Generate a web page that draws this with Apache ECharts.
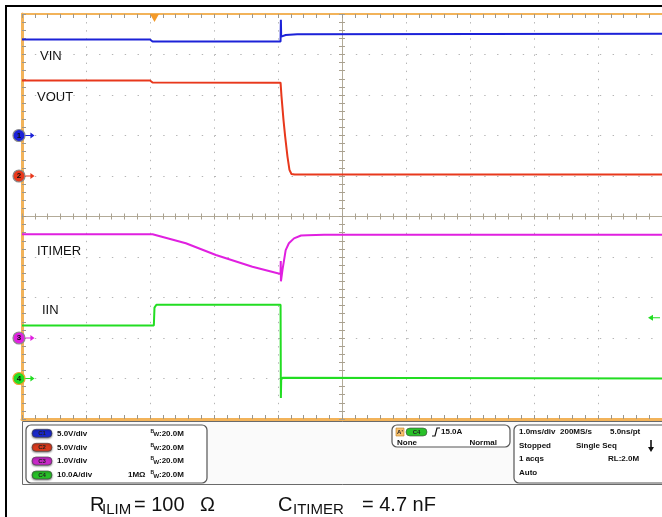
<!DOCTYPE html>
<html><head><meta charset="utf-8">
<script src="https://cdn.jsdelivr.net/npm/echarts@6/dist/echarts.min.js"></script>
<style>html,body{margin:0;padding:0;background:#fff}#c{width:662px;height:517px}</style>
</head><body><div id="c"></div><script>
// Time axis: ms from left edge of screen (1.0 ms/div, 10 divisions)
const vinT = [0, 2.0, 2.04, 4.04, 4.045, 4.05, 4.12, 4.3, 10];
const vinV = [11.85, 11.85, 11.6, 11.6, 14.3, 12.2, 12.4, 12.5, 12.55];           // V
const voutT = [0, 2.0, 2.04, 4.04, 4.055, 4.086, 4.112, 4.148, 4.179, 4.21, 4.26, 10];
const voutV = [11.8, 11.8, 11.55, 11.52, 9.8, 6.9, 4.85, 2.4, 0.75, 0.25, 0.18, 0.18]; // V
const itT = [0, 2.04, 2.56, 3.03, 3.6, 4.04, 4.043, 4.046, 4.07, 4.12, 4.17, 4.25, 4.36, 4.46, 4.72, 10];
const itV = [2.56, 2.56, 2.34, 2.05, 1.76, 1.58, 1.9, 1.4, 1.68, 2.17, 2.34, 2.46, 2.53, 2.54, 2.55, 2.55]; // V
const iinT = [0, 2.06, 2.07, 2.1, 4.04, 4.045, 4.05, 4.07, 4.1, 10];
const iinV = [13.1, 13.1, 17.5, 18.2, 18.2, -4.8, -0.3, 0.2, 0, 0];                 // A

const chNames = ['VIN', 'VOUT', 'ITIMER', 'IIN'];
const chNums = ['1', '2', '3', '4'];
const chScale = [5, 5, 1, 10];      // units per division
const chGround = [2, 1, -3, -4];    // ground marker position in divisions from centre
const chColors = ['#1c22d8', '#e8381c', '#e020e0', '#22dd22'];
const trigTime = 2.07;   // ms
const trigLevel = 15;    // A on IIN

const FONT = '"Liberation Sans", Arial, sans-serif';
const ORANGE = '#f2b35a';
const zip = (t, v) => t.map((x, i) => [x, v[i]]);
const dataSets = [zip(vinT, vinV), zip(voutT, voutV), zip(itT, itV), zip(iinT, iinV)];

const G = {left: 22, top: 14, width: 642, height: 405};
const dotsV = {color: '#b5b5b5', width: 1, type: [1.4, 6.7]};
const dotsH = {color: '#b5b5b5', width: 1, type: [1.4, 11.44]};
const tickStyle = {color: '#9c978c', width: 1};

const chart = echarts.init(document.getElementById('c'), null, {renderer: 'canvas'});

function crossAxes(gi, inside) {
  return {
    type: 'value', gridIndex: gi, min: -5, max: 5, interval: 1,
    axisLine: {show: true, onZero: true, lineStyle: {color: '#b3ab98', width: 1}},
    axisTick: {show: true, inside: inside, length: 3, lineStyle: {color: '#a9a190'}},
    minorTick: {show: true, splitNumber: 5, length: 3, lineStyle: {color: '#a9a190'}},
    axisLabel: {show: false}, splitLine: {show: false}
  };
}

const yAxes = [{
  type: 'value', gridIndex: 0, min: -5, max: 5, interval: 1, position: 'left',
  axisLine: {show: true, onZero: false, lineStyle: {color: ORANGE, width: 3}},
  axisTick: {show: true, inside: true, length: 4, lineStyle: tickStyle},
  minorTick: {show: true, splitNumber: 5, length: 4, lineStyle: tickStyle},
  axisLabel: {show: false},
  splitLine: {show: true, lineStyle: dotsH}
}];
chScale.forEach((s, i) => {
  yAxes.push({type: 'value', gridIndex: 0, show: false,
    min: -(5 + chGround[i]) * s, max: (5 - chGround[i]) * s});
});
yAxes.push(crossAxes(1, true), crossAxes(2, false));

const xAxes = [
  {type: 'value', gridIndex: 0, min: 0, max: 10, interval: 1, position: 'bottom',
   axisLine: {show: true, onZero: false, lineStyle: {color: ORANGE, width: 3}},
   axisTick: {show: true, inside: true, length: 4, lineStyle: tickStyle},
   minorTick: {show: true, splitNumber: 5, length: 4, lineStyle: tickStyle},
   axisLabel: {show: false},
   splitLine: {show: true, lineStyle: dotsV}},
  {type: 'value', gridIndex: 0, min: 0, max: 10, interval: 1, position: 'top',
   axisLine: {show: true, onZero: false, lineStyle: {color: ORANGE, width: 2}},
   axisTick: {show: true, inside: true, length: 4, lineStyle: tickStyle},
   minorTick: {show: true, splitNumber: 5, length: 4, lineStyle: tickStyle},
   axisLabel: {show: false}, splitLine: {show: false}},
  crossAxes(1, true), crossAxes(2, false)
];

const arrowRight = 'path://M0,2.5 L6,2.5 L6,0 L11,3 L6,6 L6,3.5 L0,3.5 Z';
const arrowLeft = 'path://M0,3 L5,0 L5,2.5 L12,2.5 L12,3.5 L5,3.5 L5,6 Z';

const series = dataSets.map((d, i) => {
  const mp = [
    {coord: [0, 0], symbol: 'circle', symbolSize: 12, symbolOffset: [-3, 0],
     itemStyle: {color: chColors[i], borderColor: i === 3 ? '#f0a030' : '#8a8a8a', borderWidth: 1.2},
     label: {show: true, position: 'inside', formatter: chNums[i], color: '#111', fontSize: 8, fontWeight: 'bold', fontFamily: FONT}},
    {coord: [0, 0], symbol: arrowRight, symbolSize: [9, 6], symbolOffset: [8, 0],
     itemStyle: {color: chColors[i]}, label: {show: false}}
  ];
  if (i === 0) {
    mp.push({coord: [trigTime, (5 - chGround[0]) * chScale[0]], symbol: 'triangle', symbolRotate: 180,
      symbolSize: [9, 8], symbolOffset: [0, 4], itemStyle: {color: '#f39a2a'}, label: {show: false}});
  }
  if (i === 3) {
    mp.push({coord: [9.875, trigLevel], symbol: arrowLeft, symbolSize: [12, 6],
      itemStyle: {color: chColors[3]}, label: {show: false}});
  }
  return {
    type: 'line', name: chNames[i], xAxisIndex: 0, yAxisIndex: i + 1,
    data: d, showSymbol: false, symbol: 'none', clip: true,
    lineStyle: {color: chColors[i], width: 2},
    markPoint: {silent: true, animation: false, data: mp},
    z: 5
  };
});

// graphic helpers
function T(x, y, text, font, fill, align) {
  return {type: 'text', x: x, y: y, z: 50, silent: true,
    style: {text: text, font: font, fill: fill || '#111', align: align || 'left', textAlign: align || 'left',
            verticalAlign: 'middle', textVerticalAlign: 'middle'}};
}
const B8 = 'bold 8px ' + FONT;
const graphics = [];
// outer frame
graphics.push({type: 'line', z: 40, shape: {x1: 6, y1: 5, x2: 6, y2: 517}, style: {stroke: '#000', lineWidth: 2}});
graphics.push({type: 'line', z: 40, shape: {x1: 5, y1: 6, x2: 662, y2: 6}, style: {stroke: '#000', lineWidth: 2}});
// channel labels
graphics.push(T(40, 56, chNames[0], '13px ' + FONT, '#111'));
graphics.push(T(37, 97, chNames[1], '13px ' + FONT, '#111'));
graphics.push(T(37, 251, chNames[2], '13px ' + FONT, '#111'));
graphics.push(T(42, 310, chNames[3], '13px ' + FONT, '#111'));
// info panel
graphics.push({type: 'rect', z: 30, shape: {x: 22.5, y: 421.5, width: 645, height: 63}, style: {fill: '#fafafa', stroke: '#6a6a6a', lineWidth: 1}});
graphics.push({type: 'rect', z: 31, shape: {x: 26, y: 425, width: 181, height: 58, r: 5}, style: {fill: '#fff', stroke: '#555', lineWidth: 1.2}});
graphics.push({type: 'rect', z: 31, shape: {x: 392, y: 425, width: 118, height: 22, r: 5}, style: {fill: '#fff', stroke: '#555', lineWidth: 1.2}});
graphics.push({type: 'rect', z: 31, shape: {x: 514, y: 425, width: 160, height: 58, r: 5}, style: {fill: '#fff', stroke: '#555', lineWidth: 1.2}});
const scaleTexts = ['5.0V/div', '5.0V/div', '1.0V/div', '10.0A/div'];
const rowsY = [433.3, 447.3, 461, 475];
const pillColors = ['#1a28c8', '#d83a1e', '#c828c8', '#28c028'];
rowsY.forEach((y, i) => {
  graphics.push({type: 'rect', z: 35, shape: {x: 32, y: y - 4, width: 20, height: 8, r: 4},
    style: {fill: pillColors[i], stroke: '#444', lineWidth: 0.6, shadowBlur: 2, shadowColor: 'rgba(0,0,0,0.5)', shadowOffsetY: 1}});
  graphics.push(T(42, y, 'C' + chNums[i], 'bold 6px ' + FONT, '#222', 'center'));
  graphics.push(T(57, y, scaleTexts[i], B8));
  graphics.push(T(150.5, y - 2, 'B', 'bold 5px ' + FONT));
  graphics.push(T(153.5, y + 1, 'W', 'bold 6px ' + FONT));
  graphics.push(T(159, y, ':20.0M', B8));
});
graphics.push(T(128, rowsY[3], '1MΩ', B8));
// trigger box
graphics.push({type: 'rect', z: 35, shape: {x: 396, y: 428, width: 8, height: 8}, style: {fill: '#f6c070', stroke: '#c08020', lineWidth: 0.6}});
graphics.push(T(400, 432, "A'", 'bold 6px ' + FONT, '#222', 'center'));
graphics.push({type: 'rect', z: 35, shape: {x: 406, y: 428, width: 21, height: 8, r: 4}, style: {fill: '#28c028', stroke: '#444', lineWidth: 0.6}});
graphics.push(T(416.5, 432, 'C4', 'bold 6px ' + FONT, '#222', 'center'));
graphics.push({type: 'polyline', z: 35, shape: {points: [[432, 436], [435, 436], [437, 428], [440, 428]]}, style: {stroke: '#111', lineWidth: 1.2, fill: null}});
graphics.push(T(441, 431.7, '15.0A', B8));
graphics.push(T(397, 443, 'None', B8));
graphics.push(T(497, 443, 'Normal', B8, '#111', 'right'));
// timebase box
graphics.push(T(519, 431.7, '1.0ms/div', B8));
graphics.push(T(560, 431.7, '200MS/s', B8));
graphics.push(T(610, 431.7, '5.0ns/pt', B8));
graphics.push(T(519, 445.7, 'Stopped', B8));
graphics.push(T(576, 445.7, 'Single Seq', B8));
graphics.push({type: 'line', z: 35, shape: {x1: 651, y1: 440, x2: 651, y2: 448}, style: {stroke: '#111', lineWidth: 1.6}});
graphics.push({type: 'polygon', z: 35, shape: {points: [[648, 447], [654, 447], [651, 452]]}, style: {fill: '#111'}});
graphics.push(T(519, 459, '1 acqs', B8));
graphics.push(T(608, 459, 'RL:2.0M', B8));
graphics.push(T(519, 472.3, 'Auto', B8));
// bottom caption
const F20 = '20px ' + FONT, F15 = '15px ' + FONT;
graphics.push(T(90, 505, 'R', F20));
graphics.push(T(102, 510, 'ILIM', F15));
graphics.push(T(134, 505, '= 100', F20));
graphics.push(T(200, 505, 'Ω', F20));
graphics.push(T(278, 505, 'C', F20));
graphics.push(T(293, 510, 'ITIMER', F15));
graphics.push(T(362, 505, '= 4.7 nF', F20));

chart.setOption({
  animation: false,
  backgroundColor: '#fff',
  grid: [
    Object.assign({show: false}, G),
    Object.assign({show: false}, G),
    Object.assign({show: false}, G)
  ],
  xAxis: xAxes,
  yAxis: yAxes,
  series: series,
  graphic: graphics
});
</script></body></html>
